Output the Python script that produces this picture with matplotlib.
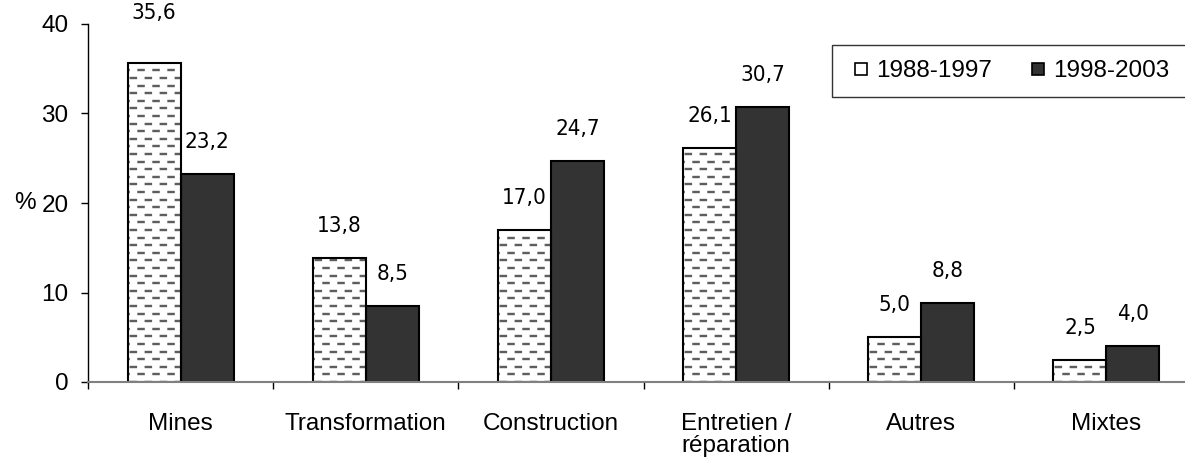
import numpy as np
import matplotlib
matplotlib.use('Agg')
import matplotlib.pyplot as plt
from matplotlib.lines import Line2D
from matplotlib.patches import Rectangle

plt.rcParams['font.family'] = ['Liberation Sans', 'DejaVu Sans']
plt.rcParams['lines.scale_dashes'] = False

# secteurs et parts (%) par période
secteurs = ['Mines', 'Transformation', 'Construction', 'Entretien /\nréparation', 'Autres', 'Mixtes']
periode_1 = [35.6, 13.8, 17.0, 26.1, 5.0, 2.5]
periode_2 = [23.2, 8.5, 24.7, 30.7, 8.8, 4.0]
noms = ['1988-1997', '1998-2003']
yticks = [0, 10, 20, 30, 40]

DPI = 100
W, H = 1185, 462
fig = plt.figure(figsize=(W / DPI, H / DPI), dpi=DPI)
ax = fig.add_axes([88 / W, 80 / H, 1111 / W, 358 / H])

x = np.arange(len(secteurs))
w = 0.286
x1 = x - w / 2
x2 = x + w / 2

ax.set_xlim(-0.5, len(secteurs) - 0.5)
ax.set_ylim(0, 40)

# barres hachurées (fond blanc) et barres pleines
ax.bar(x1, periode_1, w, color='white', edgecolor='none', zorder=2)
ax.bar(x2, periode_2, w, color='#333333', edgecolor='black', linewidth=1.5, zorder=3)

# hachures en tirets gris, rangées décalées une sur deux
px_par_unite = ax.get_window_extent().height / 40
pas = 7.6 / px_par_unite
pt = 72 / DPI
for xc, v in zip(x1, periode_1):
    k = 0
    yy = 0.0
    while yy < v - 0.15:
        off = 13.4 * pt if k % 2 == 0 else 5.7 * pt
        ax.add_line(Line2D([xc - w / 2, xc + w / 2], [yy, yy], color='#5e5e5e',
                           linewidth=2.4 * pt, linestyle=(off, (7.5 * pt, 7.5 * pt)),
                           solid_capstyle='butt', dash_capstyle='butt', zorder=2.5))
        yy += pas
        k += 1
ax.bar(x1, periode_1, w, fill=False, edgecolor='black', linewidth=1.5, zorder=3)

# étiquettes de valeurs (police étroite)
etroite = dict(family=['Liberation Sans Narrow', 'DejaVu Sans'], fontstretch='condensed')
decalage = {0: 50}
for i, v in enumerate(periode_1):
    ax.annotate(f'{v:.1f}'.replace('.', ','), (x1[i], v),
                xytext=(0, decalage.get(i, 32) * pt), textcoords='offset points',
                ha='center', va='center', fontsize=16, **etroite)
for i, v in enumerate(periode_2):
    ax.annotate(f'{v:.1f}'.replace('.', ','), (x2[i], v),
                xytext=(0, 32 * pt), textcoords='offset points',
                ha='center', va='center', fontsize=16, **etroite)

# axes
for s in ['top', 'right']:
    ax.spines[s].set_visible(False)
ax.spines['left'].set_color('black')
ax.spines['left'].set_linewidth(1.0)
ax.spines['bottom'].set_color('#808080')
ax.spines['bottom'].set_linewidth(1.5)
ax.spines['bottom'].set_zorder(4)

ax.set_yticks(yticks)
ax.tick_params(axis='y', direction='out', length=5, width=1, pad=9, labelsize=17.5)
ax.set_xticks(x)
ax.set_xticklabels(secteurs, fontsize=17.5, linespacing=1.05)
ax.tick_params(axis='x', which='major', length=0, pad=22)
ax.set_xticks(np.arange(len(secteurs) + 1) - 0.5, minor=True)
ax.tick_params(axis='x', which='minor', direction='out', length=5, width=1, color='black')

ax.set_ylabel('%', rotation=0, fontsize=17.5, va='center', labelpad=12)

# légende : cadre dessiné à part, il déborde à droite
fig.add_artist(Rectangle((832 / W, 1 - 97 / H), 380 / W, 52 / H, transform=fig.transFigure,
                         facecolor='white', edgecolor='#333333', linewidth=1.0, zorder=5))
poignees = [
    Line2D([], [], marker='s', linestyle='none', markersize=8.5,
           markerfacecolor='white', markeredgecolor='black', markeredgewidth=1.2),
    Line2D([], [], marker='s', linestyle='none', markersize=8.5,
           markerfacecolor='#333333', markeredgecolor='black', markeredgewidth=1.2),
]
leg = fig.legend(poignees, noms, loc='center left', bbox_to_anchor=(832 / W, 1 - 71 / H),
                 bbox_transform=fig.transFigure, ncol=2, fontsize=17.5, frameon=False,
                 borderpad=0.45, handlelength=1.45, handletextpad=-0.1,
                 columnspacing=1.2, borderaxespad=0)
leg.set_zorder(6)

fig.savefig('out.png', dpi=DPI)
